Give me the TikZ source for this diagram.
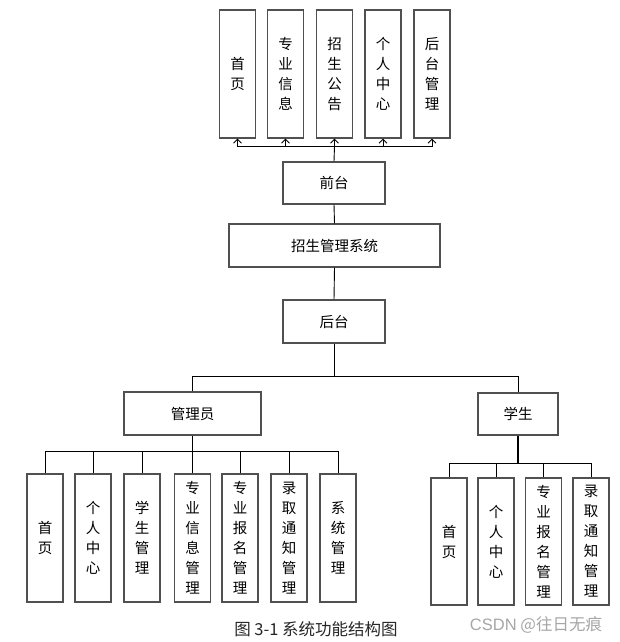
\documentclass[tikz,border=0pt]{standalone}
\usepackage{fontspec}
\setmainfont{Noto Sans CJK SC}
\newfontfamily\wmfont{Liberation Sans}
\usetikzlibrary{arrows.meta}
\definecolor{boxline}{HTML}{505050}
\tikzset{
  box/.style={draw=boxline, line width=1.1pt, fill=white, inner sep=0pt, align=center,
    font=\fontsize{14.5}{20}\selectfont},
  hbox/.style={box, minimum height=42pt},
  vbox/.style={box, minimum width=36pt, minimum height=128pt},
  conn/.style={draw=black, line width=0.9pt},
  arr/.style={conn, -{Straight Barb[length=4pt,width=8pt]}}
}
\begin{document}
\begin{tikzpicture}[x=1pt,y=-1pt]
\useasboundingbox (0,0) rectangle (620,642);
% top boxes
\node[vbox] (t1) at (237.5,74) {首\\页};
\node[vbox] (t2) at (285.5,74) {专\\业\\信\\息};
\node[vbox] (t3) at (334.5,74) {招\\生\\公\\告};
\node[vbox] (t4) at (383,74) {个\\人\\中\\心};
\node[vbox] (t5) at (432,74) {后\\台\\管\\理};
% middle
\node[hbox, minimum width=102pt] (qt) at (334,183) {前台};
\node[hbox, minimum width=211pt, minimum height=43pt] (sys) at (334.5,245.5) {招生管理系统};
\node[hbox, minimum width=102pt, minimum height=43pt] (ht) at (334,321.5) {后台};
\node[hbox, minimum width=137pt, minimum height=43pt] (admin) at (192.5,413.5) {管理员};
\node[hbox, minimum width=80pt] (stu) at (518,414) {学生};
% admin children
\node[vbox] (a1) at (45,538) {首\\页};
\node[vbox] (a2) at (93,538) {个\\人\\中\\心};
\node[vbox] (a3) at (142,538) {学\\生\\管\\理};
\node[vbox] (a4) at (192.5,538) {专\\业\\信\\息\\管\\理};
\node[vbox] (a5) at (240,538) {专\\业\\报\\名\\管\\理};
\node[vbox] (a6) at (289,538) {录\\取\\通\\知\\管\\理};
\node[vbox] (a7) at (338,538) {系\\统\\管\\理};
% student children
\node[vbox, minimum height=127pt] (s1) at (449,541.5) {首\\页};
\node[vbox, minimum height=127pt] (s2) at (496,541.5) {个\\人\\中\\心};
\node[vbox, minimum height=127pt] (s3) at (543.5,541.5) {专\\业\\报\\名\\管\\理};
\node[vbox, minimum height=127pt] (s4) at (591,541.5) {录\\取\\通\\知\\管\\理};
% bus coordinates
\coordinate (topbus) at (334.5,146);
\coordinate (midbus) at (334,376);
\coordinate (abus) at (192.5,451);
\coordinate (sbus) at (518,463);
% connectors
\draw[conn] (qt.north) -- (topbus);
\foreach \n in {t1,t2,t3,t4,t5} \draw[arr] (topbus) -| (\n.south);
\draw[conn] (qt.south) -- (sys.north);
\draw[conn] (sys.south) -- (ht.north);
\draw[conn] (ht.south) -- (midbus);
\draw[conn] (midbus) -| (admin.north);
\draw[conn] (midbus) -| (stu.north);
\draw[conn, line width=1.6pt] (admin.south) -- (abus);
\foreach \n in {a1,a2,a3,a4,a5,a6,a7} \draw[conn] (abus) -| (\n.north);
\draw[conn, line width=1.6pt] (stu.south) -- (sbus);
\foreach \n in {s1,s2,s3,s4} \draw[conn] (sbus) -| (\n.north);
% caption and watermark
\node[font=\fontsize{16.5}{18}\selectfont, text=black!85] (cap) at (316,629) {图 3-1 系统功能结构图};
\node[font=\fontsize{16.5}{18}\selectfont, text=black!35] (wm) at (536,625) {{\wmfont CSDN} @往日无痕};
\end{tikzpicture}
\end{document}
